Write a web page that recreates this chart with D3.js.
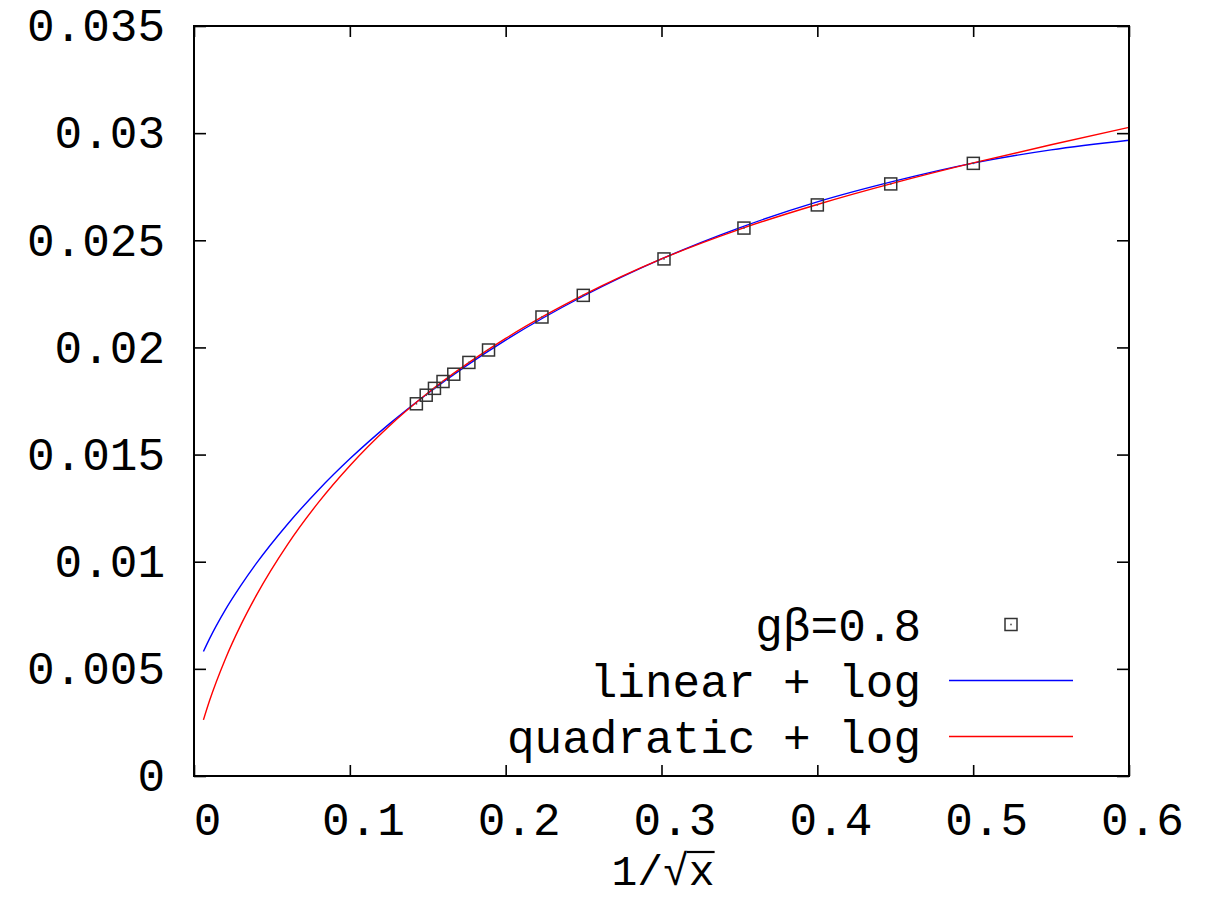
<!DOCTYPE html>
<html>
<head>
<meta charset="utf-8">
<script src="https://cdn.jsdelivr.net/npm/d3@7"></script>
<style>
  body { margin: 0; background: #fff; }
  text { font-family: "Liberation Mono", "DejaVu Sans Mono", monospace; fill: #000; }
</style>
</head>
<body>
<div id="chart"></div>
<script>
/* tick values and labels */
var xTicks = [0, 0.1, 0.2, 0.3, 0.4, 0.5, 0.6];
var xTickLabels = ["0", "0.1", "0.2", "0.3", "0.4", "0.5", "0.6"];
var yTicks = [0, 0.005, 0.01, 0.015, 0.02, 0.025, 0.03, 0.035];
var yTickLabels = ["0", "0.005", "0.01", "0.015", "0.02", "0.025", "0.03", "0.035"];

/* measured points (gβ=0.8) */
var pointX = [0.1427, 0.1490, 0.1543, 0.1598, 0.1667, 0.1764, 0.1890, 0.2233, 0.2498, 0.3016, 0.3529, 0.4000, 0.4471, 0.5001];
var pointY = [0.01737, 0.01777, 0.01809, 0.01841, 0.01875, 0.01930, 0.01988, 0.02142, 0.02243, 0.02413, 0.02557, 0.02665, 0.02763, 0.02859];

/* fitted curves at these x */
var curveX = [0.00606, 0.01, 0.02, 0.03, 0.04, 0.06, 0.08, 0.1, 0.125, 0.15, 0.2, 0.25, 0.3, 0.35, 0.4, 0.45, 0.5, 0.55, 0.6];
var linearLog = [0.00581, 0.00641, 0.00774, 0.00888, 0.00992, 0.01175, 0.01336, 0.01480, 0.01641, 0.01785, 0.02034, 0.02240, 0.02413, 0.02558, 0.02679, 0.02777, 0.02860, 0.02922, 0.02967];
var quadraticLog = [0.00262, 0.00352, 0.00544, 0.00704, 0.00843, 0.01080, 0.01278, 0.01448, 0.01631, 0.01787, 0.02042, 0.02245, 0.02413, 0.02551, 0.02667, 0.02769, 0.02861, 0.02946, 0.03027];

var legendLabels = ["gβ=0.8", "linear + log", "quadratic + log"];
var seriesColors = ["#000", "#0000ff", "#ff0000"];

var width = 1211, height = 898;
var plot = { left: 194, right: 1129, top: 26, bottom: 776 };
var fontSize = 46;

var x = d3.scaleLinear().domain([0, 0.6]).range([plot.left, plot.right]);
var y = d3.scaleLinear().domain([0, 0.035]).range([plot.bottom, plot.top]);

var svg = d3.select("#chart")
            .append("svg")
            .attr("width", width)
            .attr("height", height)
            .style("background", "#fff");

/* clip for the curves */
svg.append("clipPath").attr("id", "clip")
    .append("rect")
    .attr("x", plot.left).attr("y", plot.top)
    .attr("width", plot.right - plot.left).attr("height", plot.bottom - plot.top);

/* axes: inward ticks, mirrored on top and right */
var xAxis = d3.axisBottom(x)
                .tickValues(xTicks)
                .tickFormat(function(d, i) { return xTickLabels[i]; })
                .tickSizeInner(-11).tickSizeOuter(0).tickPadding(26);
var yAxis = d3.axisLeft(y)
                .tickValues(yTicks)
                .tickFormat(function(d, i) { return yTickLabels[i]; })
                .tickSizeInner(-12).tickSizeOuter(0).tickPadding(29);

var gx = svg.append("g")
        .attr("transform", "translate(0," + plot.bottom + ")")
        .call(xAxis);
gx.selectAll("text").attr("dx", 13);

var gy = svg.append("g")
        .attr("transform", "translate(" + plot.left + ",0)")
        .call(yAxis);

svg.append("g")
        .attr("transform", "translate(0," + plot.top + ")")
        .call(d3.axisTop(x).tickValues(xTicks).tickFormat("").tickSizeInner(-11).tickSizeOuter(0));
svg.append("g")
        .attr("transform", "translate(" + plot.right + ",0)")
        .call(d3.axisRight(y).tickValues(yTicks).tickFormat("").tickSizeInner(-12).tickSizeOuter(0));

svg.selectAll(".domain").remove();
svg.selectAll(".tick line").attr("stroke", "#000").attr("stroke-width", 1.6);
svg.selectAll(".tick text")
    .attr("font-size", fontSize)
    .attr("font-family", "Liberation Mono, DejaVu Sans Mono, monospace")
    .attr("fill", "#000");

/* curves */
var line = d3.line()
            .x(function(d) { return x(d[0]); })
            .y(function(d) { return y(d[1]); })
            .curve(d3.curveMonotoneX);

[linearLog, quadraticLog].forEach(function(vals, k) {
    svg.append("path")
        .datum(curveX.map(function(v, i) { return [v, vals[i]]; }))
        .attr("clip-path", "url(#clip)")
        .attr("fill", "none")
        .attr("stroke", seriesColors[k + 1])
        .attr("stroke-width", 1.4)
        .attr("d", line);
});

/* square points with centre dot */
var pts = svg.append("g").selectAll("g")
            .data(pointX.map(function(v, i) { return [v, pointY[i]]; }))
            .enter().append("g")
            .attr("transform", function(d) { return "translate(" + x(d[0]) + "," + y(d[1]) + ")"; });
pts.append("rect")
    .attr("x", -6).attr("y", -6).attr("width", 12).attr("height", 12)
    .attr("fill", "none").attr("stroke", "#333").attr("stroke-width", 1.5);
pts.append("rect")
    .attr("x", -0.8).attr("y", -0.8).attr("width", 1.6).attr("height", 1.6)
    .attr("fill", "#555");

/* frame */
svg.append("rect")
    .attr("x", plot.left).attr("y", plot.top)
    .attr("width", plot.right - plot.left).attr("height", plot.bottom - plot.top)
    .attr("fill", "none").attr("stroke", "#000").attr("stroke-width", 2);

/* legend */
var legend = svg.append("g").attr("transform", "translate(921,640.5)");
legendLabels.forEach(function(label, i) {
    legend.append("text")
        .attr("x", 0).attr("y", i * 56)
        .attr("text-anchor", "end")
        .attr("font-size", fontSize)
        .text(label);
    if (i === 0) {
        legend.append("rect")
            .attr("x", 84).attr("y", -22).attr("width", 12).attr("height", 12)
            .attr("fill", "none").attr("stroke", "#333").attr("stroke-width", 1.5);
        legend.append("rect")
            .attr("x", 89.2).attr("y", -16.8).attr("width", 1.6).attr("height", 1.6)
            .attr("fill", "#555");
    } else {
        legend.append("line")
            .attr("x1", 28).attr("x2", 152)
            .attr("y1", i * 56 - 16).attr("y2", i * 56 - 16)
            .attr("stroke", seriesColors[i]).attr("stroke-width", 1.4);
    }
});

/* x axis label, with the root bar drawn over the x */
var xLabel = svg.append("text")
        .attr("x", 663).attr("y", 885)
        .attr("text-anchor", "middle")
        .attr("font-size", 43);
xLabel.append("tspan").text("1/√");
var xVar = xLabel.append("tspan").text("x");
var xb = xVar.node().getBBox();
svg.append("line")
    .attr("x1", xb.x - 2).attr("x2", xb.x + xb.width)
    .attr("y1", 852).attr("y2", 852)
    .attr("stroke", "#000").attr("stroke-width", 2.2);
</script>
</body>
</html>
